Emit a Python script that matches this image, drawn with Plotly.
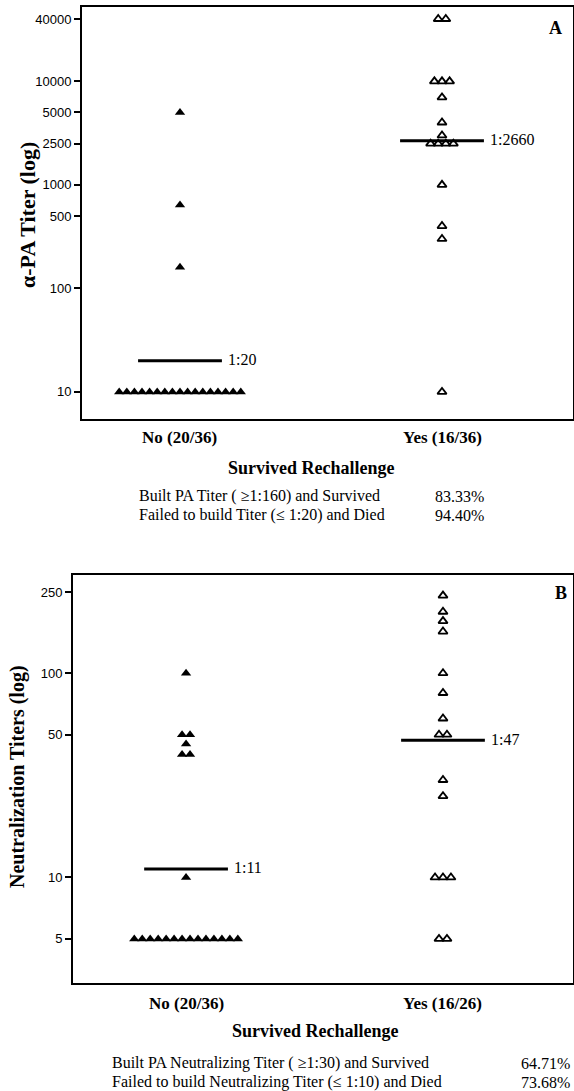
import math
import plotly.graph_objects as go
from collections import Counter

# ---------------- data ----------------
categories_A = ["No (20/36)", "Yes (16/36)"]
no_A = [5000, 640, 160] + [10] * 17
yes_A = [40000, 40000, 10000, 10000, 10000, 7000, 4000, 3000,
         2500, 2500, 2500, 2500, 1000, 400, 300, 10]
means_A = [20, 2660]
mean_labels_A = ["1:20", "1:2660"]
ticks_A = [10, 100, 500, 1000, 2500, 5000, 10000, 40000]

categories_B = ["No (20/36)", "Yes (16/26)"]
no_B = [100, 50, 50, 45, 40, 40, 10] + [5] * 14
yes_B = [240, 200, 180, 160, 100, 80, 60, 50, 50, 30, 25, 10, 10, 10, 5, 5]
means_B = [11, 47]
mean_labels_B = ["1:11", "1:47"]
ticks_B = [5, 10, 50, 100, 250]

foot_A = [("Built PA Titer ( ≥1:160) and Survived", "83.33%"),
          ("Failed to build Titer (≤ 1:20) and Died", "94.40%")]
foot_B = [("Built PA Neutralizing Titer ( ≥1:30) and Survived", "64.71%"),
          ("Failed to build Neutralizing Titer (≤ 1:10) and Died", "73.68%")]

W, H = 574, 1091
SERIF = "Liberation Serif, Times New Roman, serif"
SANS = "Liberation Sans, Arial, sans-serif"


def spread(values, center, step):
    """Spread identical values side by side around the category centre."""
    counts = Counter(values)
    seen = Counter()
    xs = []
    for v in values:
        n = counts[v]
        i = seen[v]
        seen[v] += 1
        xs.append(center + (i - (n - 1) / 2) * step)
    return xs


fig = go.Figure()

panels = [
    dict(xa="x", ya="y", no=no_A, yes=yes_A, means=means_A, ml=mean_labels_A,
         step=0.029, half=0.16),
    dict(xa="x2", ya="y2", no=no_B, yes=yes_B, means=means_B, ml=mean_labels_B,
         step=0.031, half=0.163),
]

for p in panels:
    fig.add_trace(go.Scatter(
        x=spread(p["no"], 0, p["step"]), y=p["no"], mode="markers",
        xaxis=p["xa"], yaxis=p["ya"], showlegend=False,
        marker=dict(symbol="triangle-up", size=9, color="black",
                    line=dict(width=0))))
    fig.add_trace(go.Scatter(
        x=spread(p["yes"], 1, p["step"]), y=p["yes"], mode="markers",
        xaxis=p["xa"], yaxis=p["ya"], showlegend=False,
        marker=dict(symbol="triangle-up-open", size=8, color="black",
                    line=dict(width=1.8, color="black"))))
    for c, m, lab in zip([0, 1], p["means"], p["ml"]):
        fig.add_trace(go.Scatter(
            x=[c - p["half"], c + p["half"]], y=[m, m], mode="lines",
            xaxis=p["xa"], yaxis=p["ya"], showlegend=False,
            line=dict(color="black", width=3)))
        fig.add_annotation(x=c + p["half"], y=math.log10(m),
                           xref=p["xa"], yref=p["ya"],
                           text=lab, showarrow=False, xanchor="left",
                           xshift=4, yshift=1,
                           font=dict(family=SERIF, size=16, color="black"))

# panel geometry (pixels)
A_box = dict(x0=82, x1=573, y0=7, y1=419)
B_box = dict(x0=73, x1=573, y0=575, y1=983)


def dom_x(b):
    return [b["x0"] / W, min(b["x1"] / W, 1)]


def dom_y(b):
    return [1 - b["y1"] / H, 1 - b["y0"] / H]


axis_common = dict(showline=True, linecolor="black", linewidth=2, mirror=True,
                   showgrid=False, zeroline=False)

fig.update_layout(
    width=W, height=H, margin=dict(l=0, r=0, t=0, b=0),
    paper_bgcolor="white", plot_bgcolor="white",
    xaxis=dict(domain=dom_x(A_box), range=[-0.374, 1.5], showticklabels=False,
               ticks="", anchor="y", **axis_common),
    yaxis=dict(domain=dom_y(A_box), type="log", range=[0.738, 4.718],
               tickvals=ticks_A, ticktext=[str(t) for t in ticks_A],
               ticks="outside", ticklen=6, tickwidth=1.5, tickcolor="black",
               tickfont=dict(family=SANS, size=13, color="black"),
               anchor="x", **axis_common),
    xaxis2=dict(domain=dom_x(B_box), range=[-0.44, 1.506], showticklabels=False,
                ticks="", anchor="y2", **axis_common),
    yaxis2=dict(domain=dom_y(B_box), type="log", range=[0.483, 2.481],
                tickvals=ticks_B, ticktext=[str(t) for t in ticks_B],
                ticks="outside", ticklen=6, tickwidth=1.5, tickcolor="black",
                tickfont=dict(family=SANS, size=13, color="black"),
                anchor="x2", **axis_common),
)


def ann(text, x, y, size, bold=False, xanchor="center", angle=0, family=SERIF,
        xref="paper"):
    fig.add_annotation(
        text=f"<b>{text}</b>" if bold else text,
        x=x if xref != "paper" else x / W, y=1 - y / H,
        xref=xref, yref="paper", showarrow=False, xanchor=xanchor,
        yanchor="middle", textangle=angle,
        font=dict(family=family, size=size, color="black"))


# Panel A texts
for c, lab in zip([0, 1], categories_A):
    ann(lab, c, 437, 17, bold=True, xref="x")
ann("Survived Rechallenge", 311, 468, 18, bold=True)
ann("α-PA Titer (log)", 28, 215, 22, bold=True, angle=-90)
ann("A", 555, 28, 18, bold=True)
for i, (t, pct) in enumerate(foot_A):
    ann(t, 137, 496 + i * 19, 16, xanchor="left")
    ann(pct, 486, 496 + i * 19, 16, xanchor="right")

# Panel B texts
for c, lab in zip([0, 1], categories_B):
    ann(lab, c, 1003, 17, bold=True, xref="x2")
ann("Survived Rechallenge", 315, 1031, 18, bold=True)
ann("Neutralization Titers (log)", 17, 777, 20, bold=True, angle=-90)
ann("B", 561, 593, 18, bold=True)
for i, (t, pct) in enumerate(foot_B):
    ann(t, 110, 1063 + i * 19, 16, xanchor="left")
    ann(pct, 572, 1063 + i * 19, 16, xanchor="right")

fig.write_html(
    "out.html",
    config={"displayModeBar": False},
    post_script="document.body.style.margin='0';"
                "document.body.style.overflow='hidden';",
)
